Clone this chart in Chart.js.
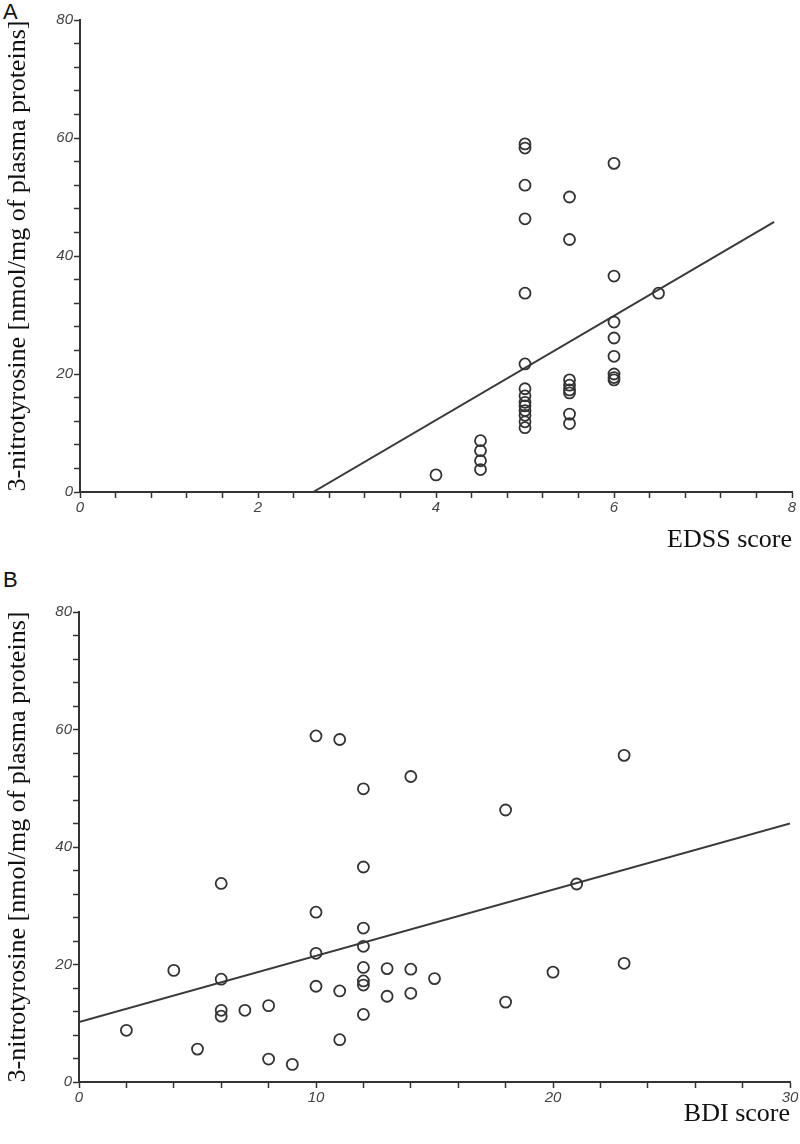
<!DOCTYPE html>
<html>
<head>
<meta charset="utf-8">
<script src="https://cdn.jsdelivr.net/npm/chart.js@4"></script>
<style>
  body { margin: 0; background: #fff; }
  #wrap { position: relative; width: 800px; height: 1144px; }
  canvas { position: absolute; left: 0; }
  .tag { position: absolute; left: 3px; font: 22px "Liberation Sans", Arial, sans-serif; color: #111; }
</style>
</head>
<body>
<div id="wrap">
  <div class="tag" style="top:-1px">A</div>
  <canvas id="chartA" width="800" height="560" style="top:0"></canvas>
  <div class="tag" style="top:567px">B</div>
  <canvas id="chartB" width="800" height="572" style="top:572px"></canvas>
</div>
<script>
// Panel A: EDSS score vs 3-nitrotyrosine
const edssScore = [4, 4.5, 4.5, 4.5, 4.5,
  5, 5, 5, 5, 5, 5, 5, 5, 5, 5, 5, 5, 5, 5,
  5.5, 5.5, 5.5, 5.5, 5.5, 5.5, 5.5, 5.5,
  6, 6, 6, 6, 6, 6, 6, 6, 6.5];
const edssNitro = [2.9, 8.7, 7.0, 5.3, 3.8,
  59.0, 58.3, 52.0, 46.3, 33.7, 21.7, 17.5, 16.3, 15.2, 14.6, 13.8, 13.0, 11.9, 10.9,
  50.0, 42.8, 19.0, 18.1, 17.3, 16.8, 13.2, 11.6,
  55.7, 36.6, 28.8, 26.1, 23.0, 20.0, 19.4, 19.0, 33.7];
const edssFitX = [2.62, 7.8];
const edssFitY = [0, 45.8];

// Panel B: BDI score vs 3-nitrotyrosine
const bdiScore = [2, 4, 5, 6, 6, 6, 6, 7, 8, 8, 9, 10, 10, 10, 10, 11, 11, 11,
  12, 12, 12, 12, 12, 12, 12, 12, 13, 13, 14, 14, 14, 15, 18, 18, 20, 21, 23, 23];
const bdiNitro = [8.8, 19.0, 5.6, 33.8, 17.5, 12.2, 11.2, 12.2, 13.0, 3.9, 3.0, 58.9, 28.9, 21.9, 16.3, 58.3, 15.5, 7.2,
  49.9, 36.6, 26.2, 23.1, 19.5, 17.2, 16.5, 11.5, 19.3, 14.6, 52.0, 19.2, 15.1, 17.6, 46.3, 13.6, 18.7, 33.7, 55.6, 20.2];
const bdiFitX = [0, 30];
const bdiFitY = [10.2, 44.0];

const yTitle = "3-nitrotyrosine [nmol/mg of plasma proteins]";
const axisColor = "#333";
const tickFont = { family: '"Liberation Sans", Arial, sans-serif', style: "italic", size: 15 };
const titleFont = { family: '"Liberation Serif", "Times New Roman", serif', size: 26 };

function toPoints(xs, ys) {
  return xs.map((x, i) => ({ x: x, y: ys[i] }));
}

// only label the major steps, the rest are plain tick marks
function majorLabel(every) {
  return function (v) {
    let r = v / every;
    return Math.abs(r - Math.round(r)) < 1e-6 ? String(Math.round(v)) : "";
  };
}

function makePanel(id, cfg) {
  let ctx = document.getElementById(id);
  return new Chart(ctx, {
    type: "scatter",
    data: {
      datasets: [
        {
          data: toPoints(cfg.xs, cfg.ys),
          pointStyle: "circle",
          pointRadius: 5.5,
          pointHoverRadius: 5.5,
          pointBorderWidth: 1.8,
          borderColor: axisColor,
          backgroundColor: "rgba(0,0,0,0)"
        },
        {
          type: "line",
          data: toPoints(cfg.fitX, cfg.fitY),
          showLine: true,
          pointRadius: 0,
          borderWidth: 2,
          borderColor: "#3a3a3a",
          fill: false
        }
      ]
    },
    options: {
      responsive: false,
      animation: false,
      devicePixelRatio: 1,
      layout: { padding: cfg.padding },
      plugins: { legend: { display: false }, tooltip: { enabled: false } },
      scales: {
        x: {
          type: "linear",
          min: 0,
          max: cfg.xMax,
          afterFit: (s) => { s.height = cfg.xHeight; },
          border: { display: true, color: axisColor, width: 2 },
          grid: { drawOnChartArea: false, color: axisColor, tickLength: 6, tickWidth: 1.5 },
          ticks: {
            stepSize: cfg.xStep,
            autoSkip: false,
            maxRotation: 0,
            padding: 1,
            color: "#444",
            font: tickFont,
            callback: majorLabel(cfg.xMajor)
          },
          title: {
            display: true,
            text: cfg.xTitle,
            align: "end",
            color: "#111",
            font: titleFont,
            padding: { top: 0, bottom: cfg.xTitlePad }
          }
        },
        y: {
          type: "linear",
          min: 0,
          max: 80,
          afterFit: (s) => { s.width = cfg.yWidth; },
          border: { display: true, color: axisColor, width: 2 },
          grid: { drawOnChartArea: false, color: axisColor, tickLength: 6, tickWidth: 1.5 },
          ticks: {
            stepSize: 4,
            autoSkip: false,
            padding: 1,
            color: "#444",
            font: tickFont,
            callback: majorLabel(20)
          },
          title: {
            display: true,
            text: yTitle,
            color: "#111",
            font: titleFont,
            padding: { top: 3, bottom: 0 }
          }
        }
      }
    }
  });
}

makePanel("chartA", {
  xs: edssScore, ys: edssNitro, fitX: edssFitX, fitY: edssFitY,
  xMax: 8, xStep: 0.4, xMajor: 2, xTitle: "EDSS score",
  padding: { top: 20, right: 8, bottom: 0, left: 0 },
  xHeight: 68, yWidth: 80, xTitlePad: 4
});

makePanel("chartB", {
  xs: bdiScore, ys: bdiNitro, fitX: bdiFitX, fitY: bdiFitY,
  xMax: 30, xStep: 2, xMajor: 10, xTitle: "BDI score",
  padding: { top: 40, right: 10, bottom: 0, left: 0 },
  xHeight: 62, yWidth: 79, xTitlePad: 14
});
</script>
</body>
</html>
